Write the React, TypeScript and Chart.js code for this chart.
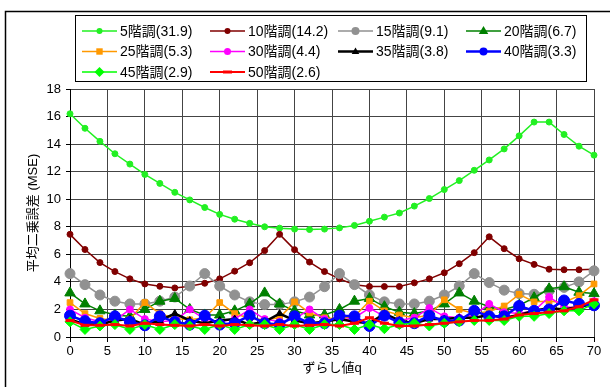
import React, { useEffect, useRef } from 'react';
import { Chart, registerables } from 'chart.js';

Chart.register(...registerables);

// ---- data ----
const qValues = [0, 2, 4, 6, 8, 10, 12, 14, 16, 18, 20, 22, 24, 26, 28, 30, 32, 34, 36, 38, 40, 42, 44, 46, 48, 50, 52, 54, 56, 58, 60, 62, 64, 66, 68, 70];

const seriesLabels = ['5階調(31.9)', '10階調(14.2)', '15階調(9.1)', '20階調(6.7)', '25階調(5.3)', '30階調(4.4)', '35階調(3.8)', '40階調(3.3)', '45階調(2.9)', '50階調(2.6)'];

const s5 = [16.2, 15.15, 14.2, 13.3, 12.55, 11.8, 11.15, 10.5, 9.95, 9.4, 8.9, 8.55, 8.25, 8.0, 7.9, 7.83, 7.8, 7.83, 7.92, 8.1, 8.4, 8.7, 9.0, 9.5, 10.05, 10.7, 11.35, 12.1, 12.85, 13.65, 14.6, 15.6, 15.6, 14.7, 13.85, 13.2];
const s10 = [7.45, 6.35, 5.4, 4.75, 4.22, 3.85, 3.68, 3.56, 3.68, 3.9, 4.22, 4.78, 5.39, 6.27, 7.45, 6.34, 5.44, 4.75, 4.22, 3.8, 3.66, 3.66, 3.66, 3.93, 4.22, 4.66, 5.32, 6.12, 7.27, 6.41, 5.68, 5.27, 4.92, 4.88, 4.88, 4.92];
const s15 = [4.6, 3.8, 3.05, 2.6, 2.4, 2.4, 2.6, 2.9, 3.7, 4.6, 3.7, 3.05, 2.55, 2.35, 2.35, 2.55, 2.9, 3.65, 4.6, 3.8, 3.05, 2.55, 2.4, 2.4, 2.6, 3.05, 3.7, 4.6, 3.95, 3.4, 3.15, 3.1, 3.35, 3.6, 4.0, 4.8];
const s20 = [3.2, 2.4, 1.9, 1.6, 1.5, 2.0, 2.6, 2.8, 2.0, 1.6, 1.6, 1.9, 2.4, 3.2, 2.4, 1.9, 1.6, 1.6, 2.0, 2.6, 2.8, 2.2, 1.8, 1.7, 1.9, 2.4, 3.2, 2.6, 2.2, 2.0, 2.3, 2.85, 3.5, 3.65, 3.25, 3.15];
const s25 = [2.5, 1.7, 1.35, 1.2, 1.3, 2.5, 1.7, 1.35, 1.25, 1.4, 2.5, 1.7, 1.35, 1.25, 1.4, 2.55, 1.75, 1.4, 1.3, 1.5, 2.6, 1.9, 1.6, 1.4, 1.6, 2.7, 2.0, 1.7, 1.85, 2.25, 3.1, 2.55, 2.6, 2.5, 3.0, 3.85];
const s30 = [2.0, 1.4, 1.1, 1.2, 2.0, 1.3, 1.1, 1.2, 2.0, 1.3, 1.1, 1.3, 2.0, 1.3, 1.1, 1.3, 2.0, 1.3, 1.2, 1.4, 2.1, 1.5, 1.2, 1.4, 2.1, 1.5, 1.4, 1.6, 2.4, 1.8, 1.7, 1.9, 2.9, 2.2, 2.1, 2.6];
const s35 = [1.3, 0.9, 0.9, 1.2, 1.3, 0.9, 1.2, 1.7, 1.2, 1.0, 1.2, 1.3, 0.9, 1.1, 1.7, 1.2, 1.0, 1.1, 1.3, 1.1, 1.0, 1.7, 1.2, 1.0, 1.3, 1.3, 1.4, 1.4, 1.6, 1.4, 1.6, 1.9, 2.1, 2.0, 2.2, 2.4];
const s40 = [1.55, 1.15, 1.0, 1.5, 1.1, 0.85, 1.5, 1.1, 0.9, 1.55, 0.9, 1.0, 1.55, 1.0, 0.9, 1.5, 1.0, 1.0, 1.55, 1.5, 0.8, 1.55, 1.05, 1.0, 1.55, 1.15, 1.2, 1.9, 1.5, 1.5, 2.25, 1.9, 2.0, 2.65, 2.4, 2.3];
const s45 = [1.1, 0.55, 0.8, 0.9, 0.55, 0.9, 0.55, 0.9, 0.8, 0.55, 0.9, 0.55, 0.9, 0.9, 0.55, 0.9, 0.55, 0.9, 0.9, 0.55, 0.9, 0.6, 0.9, 1.0, 0.8, 1.0, 1.1, 1.2, 1.2, 1.2, 1.5, 1.5, 1.7, 1.9, 1.9, 2.4];
const s50 = [1.2, 0.85, 0.85, 0.9, 0.8, 1.0, 0.9, 0.85, 0.8, 0.9, 0.8, 0.9, 0.85, 0.8, 0.9, 0.8, 0.85, 0.9, 0.8, 1.0, 1.4, 1.0, 0.8, 0.8, 0.9, 1.0, 1.1, 1.2, 1.2, 1.3, 1.6, 1.7, 1.8, 1.9, 2.2, 2.7];

const seriesValues = [s5, s10, s15, s20, s25, s30, s35, s40, s45, s50];

const yTicksMin = 0;
const yTicksMax = 18;
const yTickStep = 2;
const xTicksMin = 0;
const xTicksMax = 70;
const xTickStep = 5;

// ---- styles ----
const seriesStyles = [
  { color: '#22f022', lw: 1.5, ps: 'circle', r: 3 },
  { color: '#800000', lw: 1.5, ps: 'circle', r: 3 },
  { color: '#919191', lw: 1.5, ps: 'circle', r: 5 },
  { color: '#008000', lw: 1.5, ps: 'triangle', r: 6 },
  { color: '#ff9900', lw: 1.5, ps: 'rect', r: 4 },
  { color: '#ff00ff', lw: 1.5, ps: 'circle', r: 3.5 },
  { color: '#000000', lw: 2.5, ps: 'triangle', r: 4 },
  { color: '#0000ff', lw: 2.5, ps: 'circle', r: 5.5 },
  { color: '#00ff00', lw: 1.5, ps: 'rectRot', r: 5 },
  { color: '#ff0000', lw: 2, ps: 'line', r: 4.5 },
];

const FONT = "'Liberation Sans', 'Noto Sans CJK JP', sans-serif";

function drawMarker(ctx: CanvasRenderingContext2D, style: string, x: number, y: number, r: number, color: string) {
  ctx.save();
  ctx.fillStyle = color;
  ctx.strokeStyle = color;
  ctx.lineWidth = 1;
  ctx.beginPath();
  if (style === 'circle') {
    ctx.arc(x, y, r, 0, Math.PI * 2);
    ctx.fill();
  } else if (style === 'triangle') {
    ctx.moveTo(x, y - r);
    ctx.lineTo(x + r * 0.95, y + r * 0.6);
    ctx.lineTo(x - r * 0.95, y + r * 0.6);
    ctx.closePath();
    ctx.fill();
  } else if (style === 'rect') {
    const s = r * 0.8;
    ctx.rect(x - s, y - s, s * 2, s * 2);
    ctx.fill();
  } else if (style === 'rectRot') {
    ctx.moveTo(x, y - r);
    ctx.lineTo(x + r, y);
    ctx.lineTo(x, y + r);
    ctx.lineTo(x - r, y);
    ctx.closePath();
    ctx.fill();
  } else if (style === 'line') {
    ctx.lineWidth = 3;
    ctx.moveTo(x - r, y);
    ctx.lineTo(x + r, y);
    ctx.stroke();
  }
  ctx.restore();
}

const framePlugin = {
  id: 'frameAndLegend',
  afterDraw(chart: any) {
    const ctx: CanvasRenderingContext2D = chart.ctx;
    ctx.save();
    // outer chart frame (cut off at right/bottom)
    ctx.strokeStyle = '#000';
    ctx.lineWidth = 1.5;
    ctx.beginPath();
    ctx.moveTo(5.5, 387);
    ctx.lineTo(5.5, 11.5);
    ctx.lineTo(610, 11.5);
    ctx.stroke();
    // legend box
    ctx.lineWidth = 1;
    ctx.strokeRect(75.5, 15.5, 511, 66);
    const colX = [82, 210, 338, 466];
    const rowY = [31, 51.5, 72];
    ctx.font = `14px ${FONT}`;
    ctx.textBaseline = 'middle';
    ctx.textAlign = 'left';
    chart.data.datasets.forEach((ds: any, i: number) => {
      const st = seriesStyles[i];
      const cx = colX[i % 4];
      const cy = rowY[Math.floor(i / 4)];
      ctx.strokeStyle = st.color;
      ctx.lineWidth = st.lw;
      ctx.beginPath();
      ctx.moveTo(cx, cy);
      ctx.lineTo(cx + 35, cy);
      ctx.stroke();
      const lr = st.ps === 'circle' ? Math.min(st.r, 4) : Math.min(st.r, 5);
      drawMarker(ctx, st.ps, cx + 17.5, cy, lr, st.color);
      ctx.fillStyle = '#000';
      ctx.fillText(ds.label, cx + 38, cy + 1);
    });
    ctx.restore();
  },
};

export default function App() {
  const canvasRef = useRef<HTMLCanvasElement | null>(null);

  useEffect(() => {
    document.body.style.margin = '0';
    const canvas = canvasRef.current;
    if (!canvas) return;
    Chart.defaults.font.family = FONT;
    Chart.defaults.color = '#000';

    const datasets = seriesValues.map((vals, i) => {
      const st = seriesStyles[i];
      return {
        label: seriesLabels[i],
        data: qValues.map((q, j) => ({ x: q, y: vals[j] })),
        borderColor: st.color,
        backgroundColor: st.color,
        pointBackgroundColor: st.color,
        pointBorderColor: st.color,
        borderWidth: st.lw,
        pointStyle: st.ps,
        pointRadius: st.r,
        pointBorderWidth: st.ps === 'line' ? 3 : 1,
        tension: 0,
        clip: false,
        order: 10 - i,
      };
    });

    const chart = new Chart(canvas, {
      type: 'line',
      data: { datasets },
      plugins: [framePlugin],
      options: {
        responsive: false,
        animation: false,
        devicePixelRatio: 1,
        layout: { padding: { top: 89, right: 16, bottom: 0, left: 0 } },
        plugins: {
          legend: { display: false },
          tooltip: { enabled: false },
        },
        scales: {
          x: {
            type: 'linear',
            min: xTicksMin,
            max: xTicksMax,
            ticks: { stepSize: xTickStep, color: '#000', font: { size: 13 }, padding: 2, maxRotation: 0 },
            grid: { color: '#444', tickColor: '#000', tickLength: 5 },
            border: { color: '#000', width: 1 },
            title: { display: true, text: 'ずらし値q', color: '#000', font: { size: 13 }, padding: { top: 0, bottom: 11 } },
            afterFit: (s: any) => { s.height = 50; },
          },
          y: {
            type: 'linear',
            min: yTicksMin,
            max: yTicksMax,
            ticks: { stepSize: yTickStep, color: '#000', font: { size: 13 }, padding: 5 },
            grid: { color: '#444', tickColor: '#000', tickLength: 4 },
            border: { color: '#000', width: 1 },
            title: { display: true, text: '平均二乗誤差 (MSE)', color: '#000', font: { size: 13 }, padding: { top: 26, bottom: 0 } },
            afterFit: (s: any) => { s.width = 70; },
          },
        },
      } as any,
    });
    return () => chart.destroy();
  }, []);

  return (
    <div style={{ width: 610, height: 387, position: 'relative', background: '#fff' }}>
      <canvas ref={canvasRef} width={610} height={387} style={{ display: 'block' }} />
    </div>
  );
}
